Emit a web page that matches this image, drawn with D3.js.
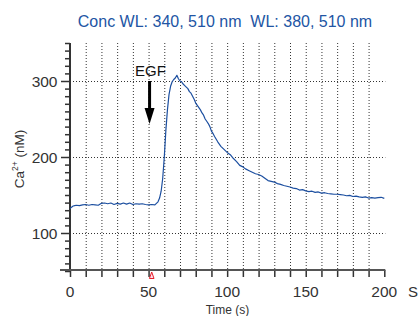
<!DOCTYPE html>
<html><head><meta charset="utf-8">
<script src="https://cdn.jsdelivr.net/npm/d3@7"></script>
<style>
html,body{margin:0;padding:0;background:#fff;}
svg{display:block;font-family:"Liberation Sans",Arial,Helvetica,sans-serif;}
</style></head>
<body>
<svg id="c" width="418" height="316"></svg>
<script>
const title = "Conc WL: 340, 510 nm  WL: 380, 510 nm";
const xLabel = "Time (s)";
const xUnit = "S";
const eventLabel = "EGF";
const eventTime = 50;
const markerTime = 52;
const xTickLabels = [0, 50, 100, 150, 200];
const yTickLabels = [100, 200, 300];
const times = [0,1,2,3,4,6,8,10,12,14,16,18,20,22,24,26,28,30,32,34,36,38,40,42,44,46,48,50,52,54,55,56,57,58,59,60,61,62,63,64,65,66,67,68,69,70,71,72,73,74,75,76,77,78,79,80,81,82,83,84,85,86,87,88,89,90,91,92,94,96,98,100,102,104,106,108,110,112,114,116,118,120,122,124,126,128,130,132,134,136,138,140,142,144,146,148,150,152,154,156,158,160,162,164,166,168,170,172,174,176,178,180,182,184,186,188,190,192,194,196,198,200];
const calcium = [132,134,135.5,136,136.5,136,137,137.5,136.5,137.5,137,136.5,139,139.5,138.5,139.5,137.5,139,138,139.5,138,139.5,137.5,138.5,138,138.5,137.5,137,137.5,137,139,141,146,155,172,200,235,262,282,293,299,302,304,307.5,303,300,299,296,294,292,290,286,284,280,276,271,268,265,262,258,255,250,247,244,240,234,231,227,220,214,210,206,203,198,194,189,187,184,182,180,178,177,175,172,169,168,167,165,164,162.5,161.5,160.5,159,158.5,156.5,157,155.5,154.5,155,153.5,154,152.5,153,152,151.5,151,151,150.5,150,149,149.5,148,148.5,147.5,147,147.5,146,146.5,146,146.5,147,145.5,146,146.5];

const svg = d3.select("#c");
const x = d3.scaleLinear().domain([0,200]).range([70,384.3]);
const y = d3.scaleLinear().domain([50,350]).range([271,43]);

// gridlines
const grid = svg.append("g").attr("stroke","#333").attr("stroke-width",1).attr("stroke-dasharray","1,2");
grid.selectAll("line.v").data(d3.range(10,200,10)).join("line")
  .attr("x1",d=>x(d)+0.5).attr("x2",d=>x(d)+0.5).attr("y1",y(350)).attr("y2",y(50));
grid.selectAll("line.h").data(yTickLabels).join("line")
  .attr("x1",x(0)).attr("x2",x(200)+1).attr("y1",d=>Math.round(y(d))+0.5).attr("y2",d=>Math.round(y(d))+0.5);

// y axis
const yAxis = svg.append("g").attr("transform",`translate(${x(0)},0)`)
  .call(d3.axisLeft(y).tickValues(d3.range(50,351,10)).tickSize(5).tickFormat(""));
yAxis.select(".domain").remove();
yAxis.selectAll(".tick line").attr("stroke","#333").attr("stroke-width",1.5);
yAxis.selectAll(".tick").filter(d=>yTickLabels.includes(d)).select("line").attr("x2",-9);
svg.append("line").attr("x1",x(0)).attr("x2",x(0)).attr("y1",y(350)).attr("y2",y(50))
  .attr("stroke","#333").attr("stroke-width",2);
svg.append("g").selectAll("text").data(yTickLabels).join("text")
  .attr("x",x(0)-12.5).attr("y",d=>y(d)+5.5).attr("text-anchor","end")
  .attr("font-size",15.5).attr("fill","#333").text(d=>d);

// x axis
const xAxis = svg.append("g").attr("transform",`translate(0,${y(50)-1})`)
  .call(d3.axisBottom(x).tickValues(d3.range(0,201,10)).tickSize(7).tickFormat(""));
xAxis.select(".domain").remove();
xAxis.selectAll(".tick line").attr("stroke","#333").attr("stroke-width",1.5);
svg.append("line").attr("x1",x(0)-10).attr("x2",x(200)+1).attr("y1",y(50)-1).attr("y2",y(50)-1)
  .attr("stroke","#555").attr("stroke-width",2);
svg.append("g").selectAll("text").data(xTickLabels).join("text")
  .attr("x",d=>x(d)).attr("y",296.5).attr("text-anchor","middle")
  .attr("font-size",15.5).attr("fill","#333").text(d=>d);
svg.append("text").attr("x",408).attr("y",296.5).attr("font-size",15).attr("fill","#333").text(xUnit);

// marker triangle
const mx = x(markerTime);
svg.append("path").attr("d",`M${mx},${272} L${mx+2.3},${278.5} L${mx-2.3},${278.5} Z`)
  .attr("fill","#fde").attr("stroke","#e8202a").attr("stroke-width",1);

// data line
svg.append("path").datum(times.map((t,i)=>[t,calcium[i]]))
  .attr("fill","none").attr("stroke","#1c4fa0").attr("stroke-width",1.2)
  .attr("stroke-linejoin","round")
  .attr("d",d3.line().x(d=>x(d[0])).y(d=>y(d[1])));

// EGF arrow
const ax = x(eventTime)+1;
svg.append("line").attr("x1",ax).attr("x2",ax).attr("y1",81).attr("y2",110)
  .attr("stroke","#000").attr("stroke-width",3);
svg.append("path").attr("d",`M${ax-5},108 L${ax+5},108 L${ax},124 Z`).attr("fill","#000");
svg.append("text").attr("x",135).attr("y",76).attr("font-size",15).attr("fill","#111").text(eventLabel);

// title
svg.append("text").attr("x",225).attr("y",27).attr("text-anchor","middle")
  .attr("xml:space","preserve").style("white-space","pre")
  .attr("font-size",16).attr("fill","#2255a4").text(title);

// axis labels
const yl = svg.append("text").attr("transform","translate(23.5,159) rotate(-90)")
  .attr("text-anchor","middle").attr("font-size",13.5).attr("fill","#333");
yl.append("tspan").text("Ca");
yl.append("tspan").attr("font-size",8.5).attr("dy",-5.5).text("2+");
yl.append("tspan").attr("dy",5.5).text(" (nM)");
svg.append("text").attr("x",227.5).attr("y",314).attr("text-anchor","middle")
  .attr("font-size",12).attr("fill","#333").text(xLabel);
</script>
</body></html>
